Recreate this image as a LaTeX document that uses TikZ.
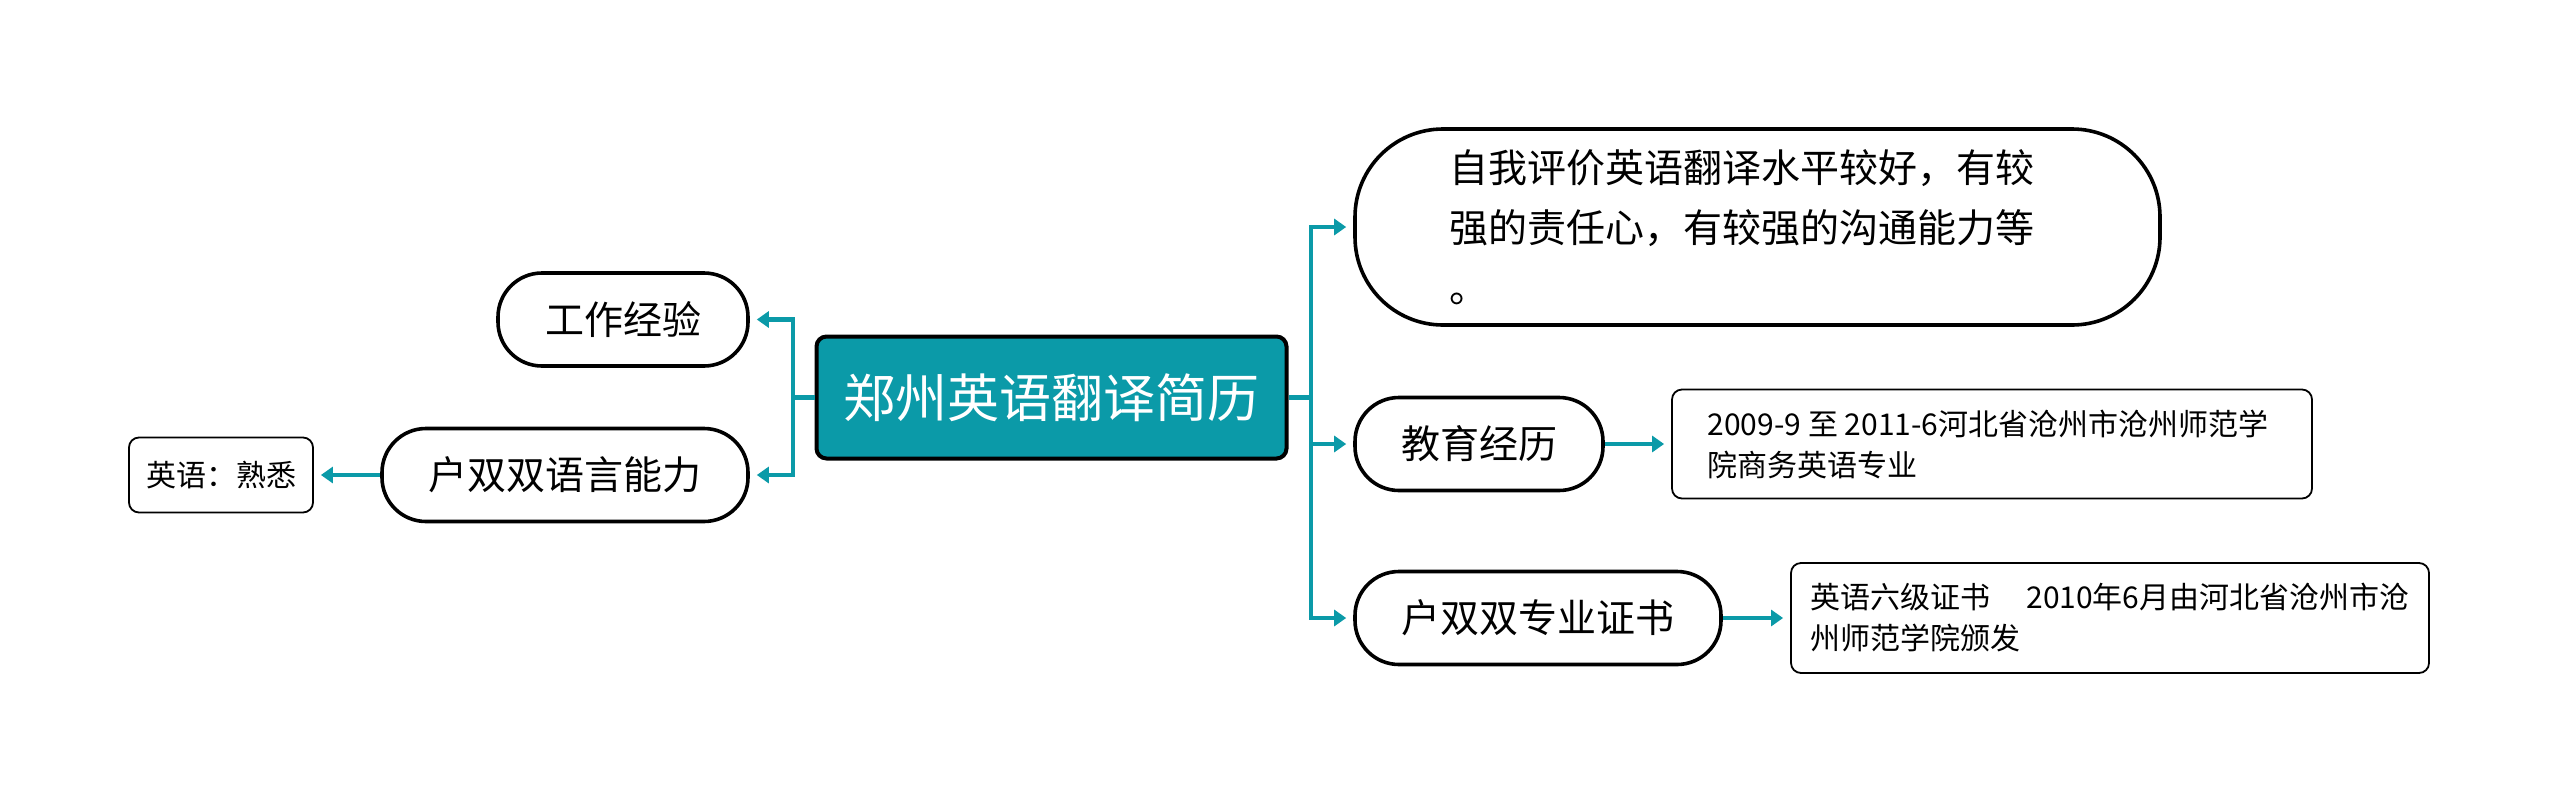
\documentclass[tikz,border=0pt]{standalone}
\usepackage{fontspec}
\setmainfont{Noto Sans CJK SC}
\usetikzlibrary{arrows.meta}
\definecolor{teal1}{HTML}{0B9AA8}
\begin{document}
\begin{tikzpicture}[x=0.5pt,y=-0.5pt,
  line/.style={draw=teal1,line width=2.4pt},
  conn/.style={line,-{Triangle[length=6pt,width=8pt]},shorten >=3.5pt},
  central/.style={draw=black,fill=teal1,line width=2pt,rounded corners=5pt,text=white,
    inner sep=0pt,minimum width=235pt,minimum height=61pt,font=\fontsize{26pt}{30pt}\selectfont},
  topic/.style={draw=black,fill=white,line width=1.8pt,rounded corners=22pt,inner sep=0pt,
    minimum height=46.5pt,font=\fontsize{19.5pt}{30pt}\selectfont},
  leaf/.style={draw=black,fill=white,line width=0.9pt,rounded corners=5pt,inner sep=0pt,
    align=left,font=\fontsize{15pt}{20.5pt}\selectfont},
]
\useasboundingbox (0,0) rectangle (2560,804);
\node[central] (c) at (1051.5,397.5) {郑州英语翻译简历};
\node[topic,minimum width=125pt] (w) at (623,319.5) {工作经验};
\node[topic,minimum width=183pt] (l) at (565,475) {户双双语言能力};
\node[leaf,minimum width=92pt,minimum height=37.5pt] (lf) at (221,475) {英语：熟悉};
\node[topic,minimum width=402.5pt,minimum height=98pt,rounded corners=44pt,align=left] (s) at (1757.5,227)
  {自我评价英语翻译水平较好，有较\hspace*{16pt}\\强的责任心，有较强的沟通能力等\\。};
\node[topic,minimum width=124pt] (e) at (1479,444) {教育经历};
\node[leaf,minimum width=320pt,minimum height=54.5pt] (ed) at (1992,444)
  {2009-9 至 2011-6河北省沧州市沧州师范学\hspace*{4pt}\\院商务英语专业};
\node[topic,minimum width=183pt] (p) at (1538,618) {户双双专业证书};
\node[leaf,minimum width=319pt,minimum height=55pt] (pd) at (2110,618)
  {英语六级证书\hspace{1.2em}2010年6月由河北省沧州市沧\\州师范学院颁发};
\coordinate (lb) at (793,397.5);
\coordinate (rb) at (1311,397.5);
\draw[line] (c.west) -- (lb);
\draw[conn] (lb) |- (w.east);
\draw[conn] (lb) |- (l.east);
\draw[line] (c.east) -- (rb);
\draw[conn] (rb) |- (s.west);
\draw[conn] (rb) |- (e.west);
\draw[conn] (rb) |- (p.west);
\draw[conn] (l.west) -- (lf.east);
\draw[conn] (e.east) -- (ed.west);
\draw[conn] (p.east) -- (pd.west);
\end{tikzpicture}
\end{document}
